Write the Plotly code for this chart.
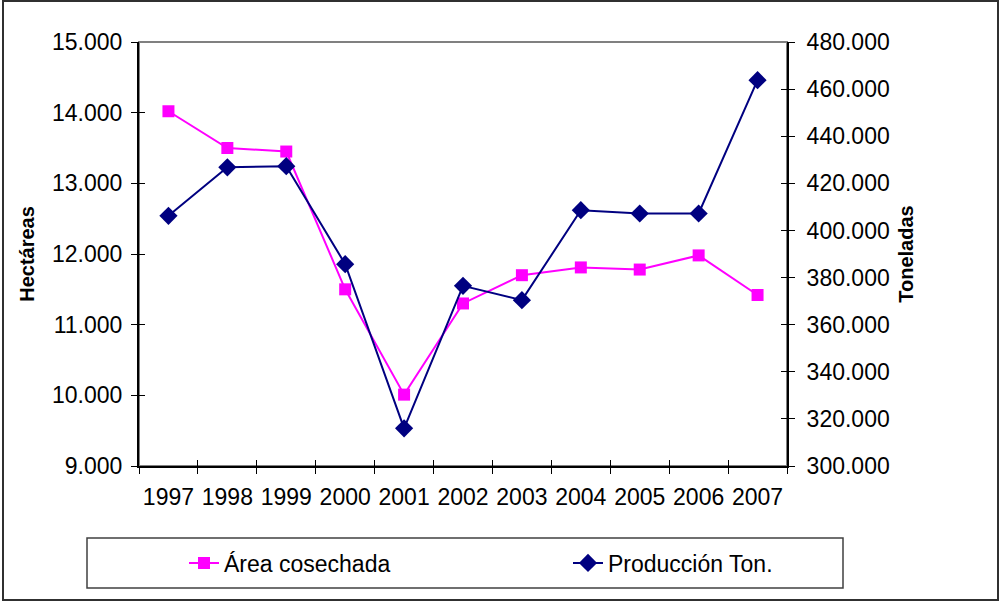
import plotly.graph_objects as go

years = ["1997", "1998", "1999", "2000", "2001", "2002", "2003", "2004", "2005", "2006", "2007"]
area_cosechada = [14020, 13500, 13450, 11500, 10010, 11300, 11700, 11810, 11780, 11980, 11420]
produccion_ton = [406200, 426800, 427300, 385700, 316000, 376500, 370400, 408600, 407200, 407200, 463800]

left_ticks = [9000, 10000, 11000, 12000, 13000, 14000, 15000]
right_ticks = [300000, 320000, 340000, 360000, 380000, 400000, 420000, 440000, 460000, 480000]

W, H = 1000, 606
ML, MR, MT, MB = 139, 213, 42, 140
pw, ph = W - ML - MR, H - MT - MB

def px(x):
    return (x - ML) / pw

def py(y):
    return (H - MB - y) / ph

font = "Liberation Sans, Arial, sans-serif"

fig = go.Figure()

fig.add_trace(go.Scatter(
    x=years, y=area_cosechada, name="Área cosechada",
    mode="lines+markers",
    line=dict(color="#FF00FF", width=2),
    marker=dict(symbol="square", size=12, color="#FF00FF"),
    yaxis="y", legend="legend"
))

fig.add_trace(go.Scatter(
    x=years, y=produccion_ton, name="Producción Ton.",
    mode="lines+markers",
    line=dict(color="#000080", width=2),
    marker=dict(symbol="diamond", size=14, color="#000080"),
    yaxis="y2", legend="legend2"
))

legend_style = dict(
    orientation="h", yanchor="middle", xanchor="left",
    bgcolor="rgba(0,0,0,0)", borderwidth=0,
    font=dict(family=font, size=23, color="black")
)

fig.update_layout(
    width=W, height=H, autosize=False,
    margin=dict(l=ML, r=MR, t=MT, b=MB),
    paper_bgcolor="white", plot_bgcolor="white",
    separators=",.",
    font=dict(family=font, size=23, color="black"),
    showlegend=True,
    legend=dict(x=px(184), y=py(563), **legend_style),
    legend2=dict(x=px(568), y=py(563), **legend_style),
    xaxis=dict(
        type="category", range=[-0.5, 10.5],
        showline=True, linecolor="black", linewidth=2,
        ticks="outside", ticklen=6, tickcolor="black", tickwidth=1,
        tickson="boundaries", showgrid=False, zeroline=False,
        tickfont=dict(size=23), tickangle=0, ticklabelstandoff=9
    ),
    xaxis2=dict(
        overlaying="x", range=[-0.5, 10.5], anchor="y",
        tickvals=[i - 0.5 for i in range(12)], showticklabels=False,
        ticks="inside", ticklen=6, tickcolor="black", tickwidth=1,
        showgrid=False, zeroline=False, showline=False
    ),
    yaxis=dict(
        range=[9000, 15000], tickvals=left_ticks, tickformat=",.0f",
        showline=True, linecolor="black", linewidth=2,
        ticks="outside", ticklen=6, tickcolor="black", tickwidth=1,
        showgrid=False, zeroline=False, tickfont=dict(size=23), ticklabelstandoff=4,
        title=dict(text="<b>Hectáreas</b>", font=dict(size=20), standoff=12)
    ),
    yaxis2=dict(
        range=[300000, 480000], tickvals=right_ticks, tickformat=",.0f",
        overlaying="y", side="right", anchor="x",
        showline=True, linecolor="black", linewidth=2,
        ticks="outside", ticklen=6, tickcolor="black", tickwidth=1,
        showgrid=False, zeroline=False, tickfont=dict(size=23), ticklabelstandoff=7,
        title=dict(text="<b>Toneladas</b>", font=dict(size=20), standoff=10)
    ),
    yaxis3=dict(
        range=[9000, 15000], tickvals=left_ticks, overlaying="y", anchor="x",
        showticklabels=False, ticks="inside", ticklen=6, tickcolor="black",
        showgrid=False, zeroline=False, showline=False
    ),
    yaxis4=dict(
        range=[300000, 480000], tickvals=right_ticks, overlaying="y", side="right", anchor="x",
        showticklabels=False, ticks="inside", ticklen=6, tickcolor="black",
        showgrid=False, zeroline=False, showline=False
    ),
    shapes=[
        # plot area frame
        dict(type="rect", xref="paper", yref="paper", x0=0, x1=1, y0=0, y1=1,
             line=dict(color="#808080", width=2), layer="below"),
        # legend box
        dict(type="rect", xref="paper", yref="paper", x0=px(87), x1=px(843), y0=py(588), y1=py(538),
             line=dict(color="#404040", width=1.5), layer="below"),
        # chart border
        dict(type="rect", xref="paper", yref="paper", x0=px(3), x1=px(998), y0=py(600), y1=py(1),
             line=dict(color="#303030", width=2), layer="below"),
    ]
)

# dummy traces so overlay axes render their cross ticks
fig.add_trace(go.Scatter(x=[None], y=[None], xaxis="x2", yaxis="y3", showlegend=False, hoverinfo="skip"))
fig.add_trace(go.Scatter(x=[None], y=[None], xaxis="x2", yaxis="y4", showlegend=False, hoverinfo="skip"))

fig.write_html(
    "out.html",
    config={"displayModeBar": False},
    post_script="document.body.style.margin='0';document.body.style.overflow='hidden';"
                "document.documentElement.style.overflow='hidden';"
)
